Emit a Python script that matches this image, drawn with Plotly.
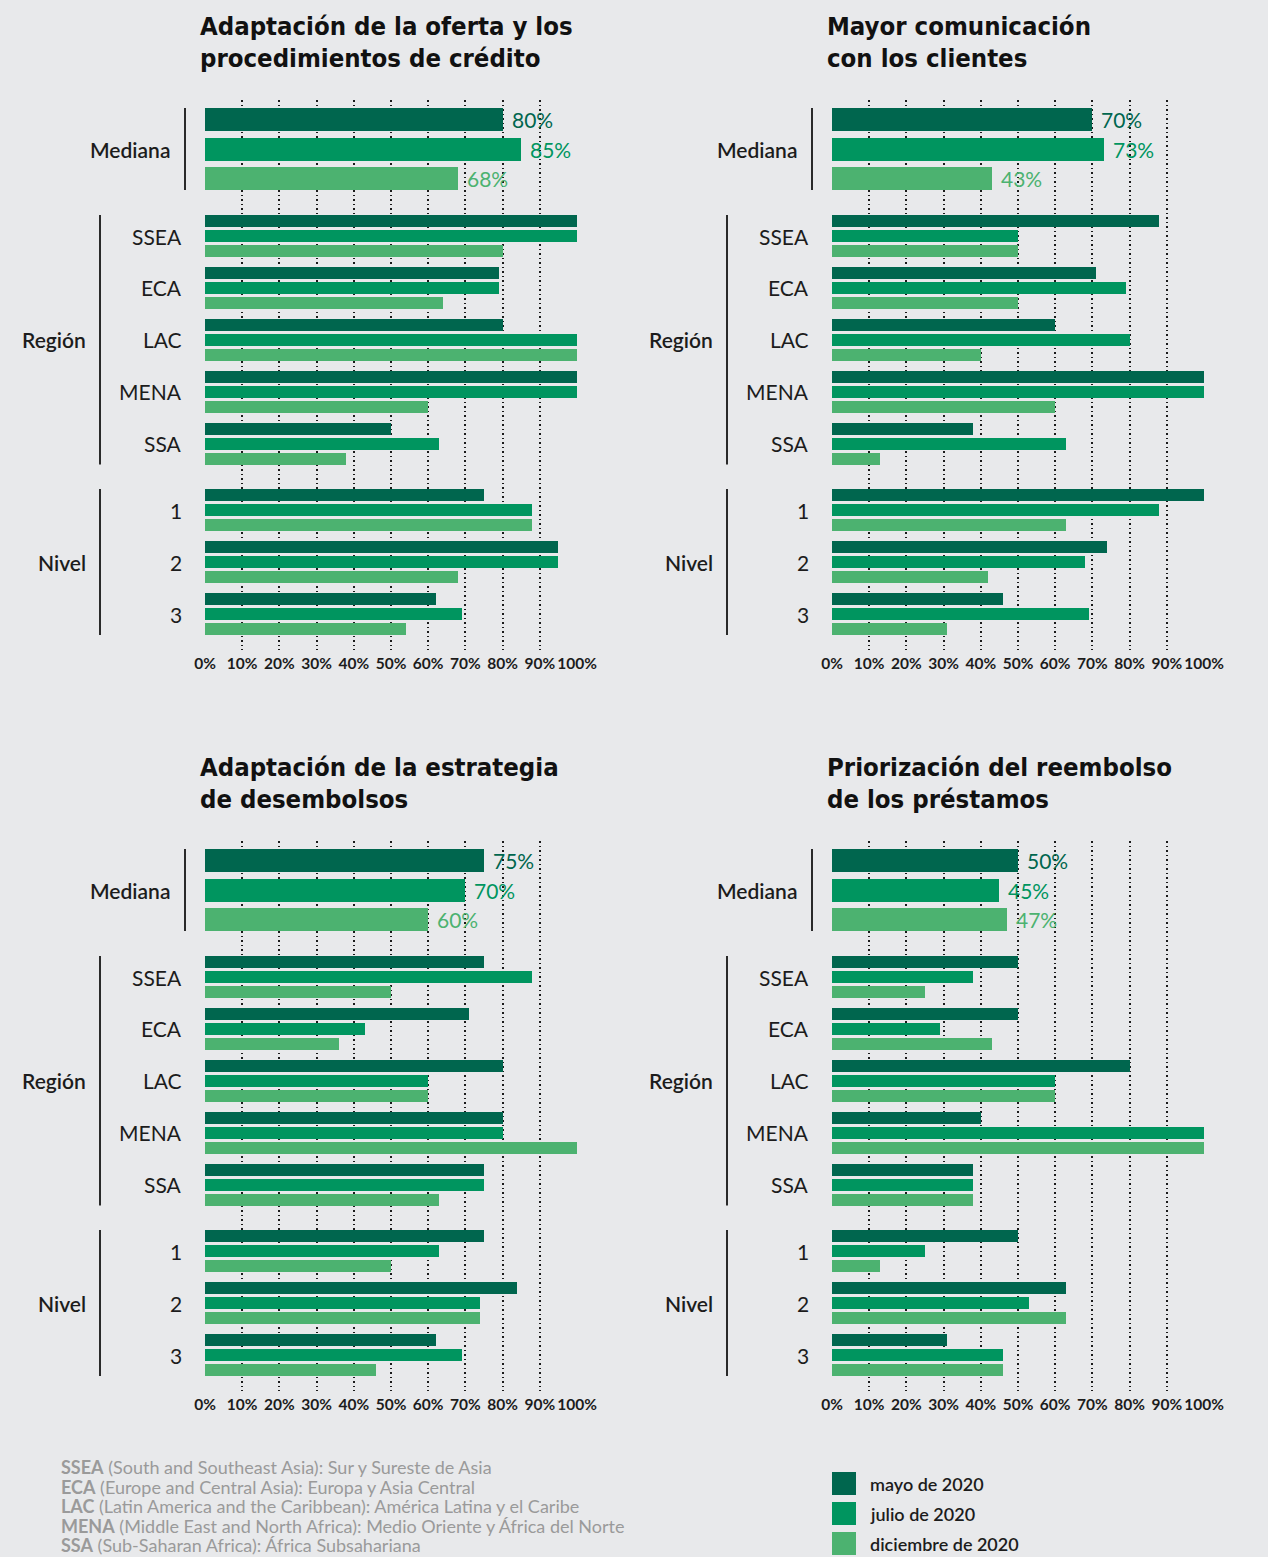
import plotly.graph_objects as go

# ---- data -------------------------------------------------------------
SERIES = ["mayo de 2020", "julio de 2020", "diciembre de 2020"]
COLORS = ["#00664e", "#00955f", "#4cb270"]

ROWS = ["Mediana", "SSEA", "ECA", "LAC", "MENA", "SSA", "1", "2", "3"]
REGIONS = ["SSEA", "ECA", "LAC", "MENA", "SSA"]
LEVELS = ["1", "2", "3"]

TITLES = [
    ("Adaptación de la oferta y los", "procedimientos de crédito"),
    ("Mayor comunicación", "con los clientes"),
    ("Adaptación de la estrategia", "de desembolsos"),
    ("Priorización del reembolso", "de los préstamos"),
]

# values in ROWS order (percent)
oferta_mayo = [80, 100, 79, 80, 100, 50, 75, 95, 62]
oferta_julio = [85, 100, 79, 100, 100, 63, 88, 95, 69]
oferta_dic = [68, 80, 64, 100, 60, 38, 88, 68, 54]

comunicacion_mayo = [70, 88, 71, 60, 100, 38, 100, 74, 46]
comunicacion_julio = [73, 50, 79, 80, 100, 63, 88, 68, 69]
comunicacion_dic = [43, 50, 50, 40, 60, 13, 63, 42, 31]

desembolsos_mayo = [75, 75, 71, 80, 80, 75, 75, 84, 62]
desembolsos_julio = [70, 88, 43, 60, 80, 75, 63, 74, 69]
desembolsos_dic = [60, 50, 36, 60, 100, 63, 50, 74, 46]

reembolso_mayo = [50, 50, 50, 80, 40, 38, 50, 63, 31]
reembolso_julio = [45, 38, 29, 60, 100, 38, 25, 53, 46]
reembolso_dic = [47, 25, 43, 60, 100, 38, 13, 63, 46]

PANELS = [
    [oferta_mayo, oferta_julio, oferta_dic],
    [comunicacion_mayo, comunicacion_julio, comunicacion_dic],
    [desembolsos_mayo, desembolsos_julio, desembolsos_dic],
    [reembolso_mayo, reembolso_julio, reembolso_dic],
]

X_TICKS = [0, 10, 20, 30, 40, 50, 60, 70, 80, 90, 100]
X_TICKTEXT = [f"{t}%" for t in X_TICKS]

FOOTNOTES = [
    ("SSEA", "(South and Southeast Asia): Sur y Sureste de Asia"),
    ("ECA", "(Europe and Central Asia): Europa y Asia Central"),
    ("LAC", "(Latin America and the Caribbean): América Latina y el Caribe"),
    ("MENA", "(Middle East and North Africa): Medio Oriente y África del Norte"),
    ("SSA", "(Sub-Saharan Africa): África Subsahariana"),
]

# ---- page geometry (pixels) ------------------------------------------
W, H = 1268, 1557
BG = "#e8e9eb"
SANS = "Lato, 'Open Sans', sans-serif"
COND = "'DejaVu Sans Condensed', sans-serif"
INK = "#1c1c1c"

PANEL_X0 = [205, 832, 205, 832]     # pixel of 0 %
PANEL_TOP = [100, 100, 841, 841]    # top of the plotting band
AXIS_W = 372
BAND_H = 550


def fx(px):
    return px / W


def fy(py):
    return 1 - py / H


# vertical slots inside a band (pixels from band top)
MED_CENTERS = [19.5, 49.0, 78.5]
MED_THICK = 23
SMALL_THICK = 12
SMALL_STEP = 15
REGION_START, REGION_PITCH = 121.0, 51.9
LEVEL_START, LEVEL_PITCH = 395.0, 52.0


def slot_positions(series_idx):
    pos = [MED_CENTERS[series_idx]]
    for k in range(len(REGIONS)):
        pos.append(REGION_START + REGION_PITCH * k + SMALL_STEP * series_idx)
    for k in range(len(LEVELS)):
        pos.append(LEVEL_START + LEVEL_PITCH * k + SMALL_STEP * series_idx)
    return pos


WIDTHS = [MED_THICK] + [SMALL_THICK] * (len(REGIONS) + len(LEVELS))

fig = go.Figure()
annotations = []
shapes = []
layout_axes = {}

for p, series_vals in enumerate(PANELS):
    n = p + 1
    xname = "x" if n == 1 else f"x{n}"
    yname = "y" if n == 1 else f"y{n}"
    x0 = PANEL_X0[p]
    top = PANEL_TOP[p]
    dx = x0 - 205

    for s, vals in enumerate(series_vals):
        fig.add_trace(go.Bar(
            x=vals, y=slot_positions(s), width=WIDTHS,
            orientation="h", name=SERIES[s],
            marker=dict(color=COLORS[s], line=dict(width=0)),
            xaxis=xname, yaxis=yname, showlegend=False,
            hovertemplate="%{x}%<extra>" + SERIES[s] + "</extra>",
        ))
        # value labels on the median bars
        annotations.append(dict(
            x=vals[0], y=MED_CENTERS[s], xref=xname, yref=yname,
            text=f"{vals[0]}%", showarrow=False, xanchor="left",
            yanchor="middle", xshift=7,
            font=dict(family=SANS, size=21, color=COLORS[s]),
        ))

    key = "" if n == 1 else str(n)
    layout_axes[f"xaxis{key}"] = dict(
        domain=[fx(x0), fx(x0 + AXIS_W)], range=[0, 100],
        anchor=yname, tickvals=X_TICKS, ticktext=X_TICKTEXT,
        tickangle=0, ticklabelstandoff=2,
        showgrid=True, gridcolor="#1a1a1a", gridwidth=1.5,
        griddash="1.5px,3px", zeroline=False, showline=False, ticks="",
        tickfont=dict(family=SANS, size=15.5, color=INK, weight=700),
        fixedrange=True, automargin=False,
    )
    layout_axes[f"yaxis{key}"] = dict(
        domain=[fy(top + BAND_H), fy(top)], range=[BAND_H, 0],
        anchor=xname, visible=False, fixedrange=True, automargin=False,
    )

    # titles
    for li, line in enumerate(TITLES[p]):
        annotations.append(dict(
            x=fx(x0 - 7), y=fy(top - 74 + 32 * li), xref="paper", yref="paper",
            text=line, showarrow=False, xanchor="left", yanchor="middle",
            font=dict(family=COND, size=25.5, color="#111111", weight=700),
        ))

    # group labels
    reg_mid = REGION_START + (REGION_PITCH * (len(REGIONS) - 1) + 2 * SMALL_STEP) / 2
    lvl_mid = LEVEL_START + (LEVEL_PITCH * (len(LEVELS) - 1) + 2 * SMALL_STEP) / 2
    for text, xr, ymid in [("Mediana", 172, MED_CENTERS[1]),
                           ("Región", 88, reg_mid),
                           ("Nivel", 88, lvl_mid)]:
        annotations.append(dict(
            x=fx(xr + dx), y=ymid, xref="paper", yref=yname, text=text,
            showarrow=False, xanchor="right", yanchor="middle",
            font=dict(family=SANS, size=21, color=INK, weight=600),
        ))
    # row labels
    for k, name in enumerate(REGIONS):
        annotations.append(dict(
            x=fx(184 + dx), y=REGION_START + REGION_PITCH * k + SMALL_STEP,
            xref="paper", yref=yname, text=name, showarrow=False,
            xanchor="right", yanchor="middle",
            font=dict(family=SANS, size=21, color=INK),
        ))
    for k, name in enumerate(LEVELS):
        annotations.append(dict(
            x=fx(184 + dx), y=LEVEL_START + LEVEL_PITCH * k + SMALL_STEP,
            xref="paper", yref=yname, text=name, showarrow=False,
            xanchor="right", yanchor="middle",
            font=dict(family=SANS, size=21, color=INK),
        ))

    # bracket lines beside the groups
    brackets = [
        (185, MED_CENTERS[0] - MED_THICK / 2, MED_CENTERS[2] + MED_THICK / 2),
        (100, REGION_START - SMALL_THICK / 2,
         REGION_START + REGION_PITCH * (len(REGIONS) - 1) + 2 * SMALL_STEP + SMALL_THICK / 2),
        (100, LEVEL_START - SMALL_THICK / 2,
         LEVEL_START + LEVEL_PITCH * (len(LEVELS) - 1) + 2 * SMALL_STEP + SMALL_THICK / 2),
    ]
    for bx, b0, b1 in brackets:
        shapes.append(dict(
            type="line", xref="paper", yref=yname,
            x0=fx(bx + dx), x1=fx(bx + dx), y0=b0, y1=b1,
            line=dict(color="#2a2a2a", width=2),
        ))

# footnote with the region abbreviations, one line each
for i, (abbr, desc) in enumerate(FOOTNOTES):
    annotations.append(dict(
        x=fx(59), y=fy(1467 + 19.5 * i), xref="paper", yref="paper",
        text=f"<b>{abbr}</b> {desc}", showarrow=False,
        xanchor="left", yanchor="middle", align="left",
        font=dict(family=SANS, size=18, color="#9a9a9a"),
    ))

# legend swatches
for s, name in enumerate(SERIES):
    ytop = 1472 + 30 * s
    shapes.append(dict(
        type="rect", xref="paper", yref="paper",
        x0=fx(832), x1=fx(856), y0=fy(ytop), y1=fy(ytop + 23),
        fillcolor=COLORS[s], line=dict(width=0),
    ))
    annotations.append(dict(
        x=fx(868), y=fy(ytop + 12), xref="paper", yref="paper", text=name,
        showarrow=False, xanchor="left", yanchor="middle",
        font=dict(family=SANS, size=18, color=INK, weight=600),
    ))

fig.update_layout(
    width=W, height=H, autosize=False,
    margin=dict(l=0, r=0, t=0, b=0, pad=0, autoexpand=False),
    paper_bgcolor=BG, plot_bgcolor=BG, barmode="overlay",
    bargap=0, showlegend=False, annotations=annotations, shapes=shapes,
    **layout_axes,
)

fig.write_html("out.html", config={"displayModeBar": False})
